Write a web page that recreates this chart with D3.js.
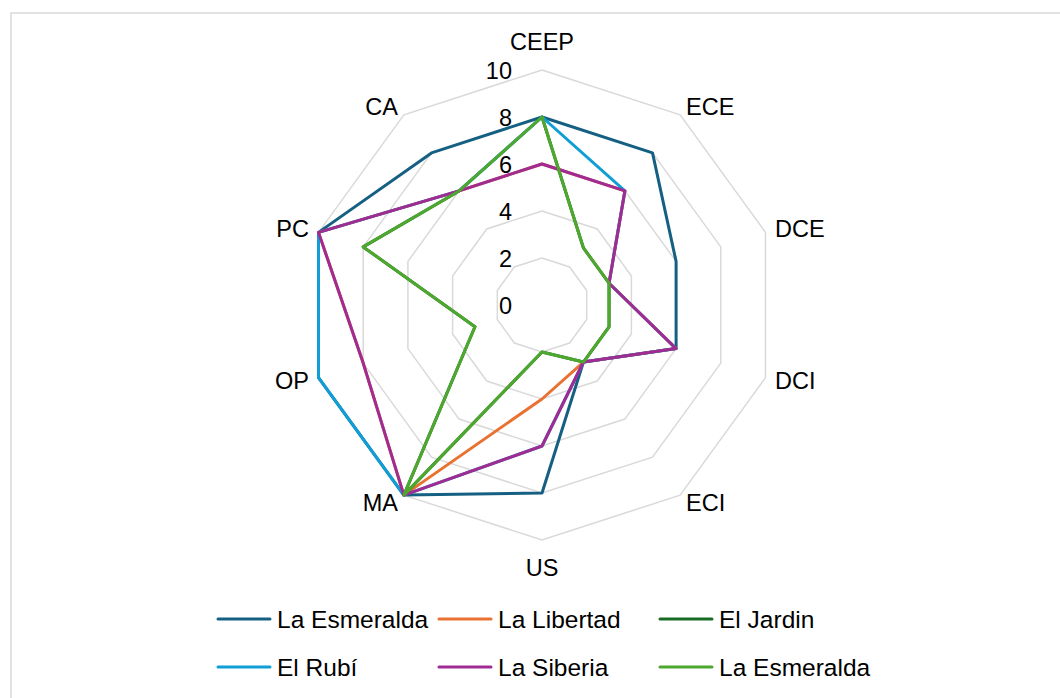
<!DOCTYPE html>
<html>
<head>
<meta charset="utf-8">
<script src="https://cdn.jsdelivr.net/npm/d3@7"></script>
<style>
  body { margin: 0; background: #fff; }
  svg text { font-family: "Liberation Sans", Arial, sans-serif; fill: #000; }
</style>
</head>
<body>
<div id="chart"></div>
<script>
// Axes of the radar, clockwise from the top
var categories = ["CEEP", "ECE", "DCE", "DCI", "ECI", "US", "MA", "OP", "PC", "CA"];
var tickValues = [0, 2, 4, 6, 8, 10];

// One array per series, same order as categories
var laEsmeralda = [8, 8, 6, 6, 3, 8, 10, 10, 10, 8];
var laLibertad  = [6, 6, 3, 6, 3, 4, 10, 8, 10, 6];
var elJardin    = [8, 3, 3, 3, 3, 2, 10, 3, 8, 6];
var elRubi      = [8, 6, 3, 6, 3, 6, 10, 10, 10, 6];
var laSiberia   = [6, 6, 3, 6, 3, 6, 10, 8, 10, 6];
var laEsmeralda2 = [8, 3, 3, 3, 3, 2, 10, 3, 8, 6];

var seriesNames = ["La Esmeralda", "La Libertad", "El Jardin", "El Rubí", "La Siberia", "La Esmeralda"];
var seriesColors = ["#156082", "#E97132", "#196B24", "#0F9ED5", "#A02B93", "#4EA72E"];

var series = [laEsmeralda, laLibertad, elJardin, elRubi, laSiberia, laEsmeralda2].map(function (v, i) {
    return { name: seriesNames[i], color: seriesColors[i], values: v };
});

var width = 1060, height = 698;
var cx = 542, cy = 305, radius = 235;
var fontSize = "23.5px";

var svg = d3.select("#chart").append("svg")
    .attr("width", width)
    .attr("height", height);

// chart frame
svg.append("rect")
    .attr("x", 11).attr("y", 13)
    .attr("width", 1100).attr("height", 720)
    .attr("fill", "#fff")
    .attr("stroke", "#d9d9d9")
    .attr("stroke-width", 1.5);

var r = d3.scaleLinear().domain([0, 10]).range([0, radius]);
var angle = d3.scaleBand().domain(categories).range([0, 2 * Math.PI]).paddingInner(0).paddingOuter(0);
function ang(c) { return angle(c); }

var g = svg.append("g").attr("transform", "translate(" + cx + "," + cy + ")");

// Ring gridlines
g.selectAll(".ring")
    .data(tickValues.filter(function (t) { return t > 0; }))
    .enter().append("path")
    .attr("class", "ring")
    .attr("fill", "none")
    .attr("stroke", "#d9d9d9")
    .attr("stroke-width", 1.5)
    .attr("d", function (t) {
        return d3.lineRadial().angle(function (c) { return ang(c); }).radius(r(t))
            .curve(d3.curveLinearClosed)(categories);
    });

// Tick labels
g.selectAll(".tick_label")
    .data(tickValues)
    .enter().append("text")
    .attr("class", "tick_label")
    .attr("x", -30)
    .attr("y", function (t) { return -r(t) + 1; })
    .attr("dominant-baseline", "central")
    .attr("text-anchor", "end")
    .style("font-size", fontSize)
    .text(function (t) { return t; });

// Category labels
g.selectAll(".cat_label")
    .data(categories)
    .enter().append("text")
    .attr("class", "cat_label")
    .each(function (c) {
        var a = ang(c), s = Math.sin(a), co = Math.cos(a);
        var d = radius + 10;
        var x = d * s, y = -d * co;
        var anchor = "middle";
        if (s > 0.05) anchor = "start";
        if (s < -0.05) anchor = "end";
        if (Math.abs(s) < 0.05) y += -co * 18;
        d3.select(this)
            .attr("x", x).attr("y", y)
            .attr("text-anchor", anchor)
            .attr("dominant-baseline", "central");
    })
    .style("font-size", fontSize)
    .text(function (c) { return c; });

// Series lines
var line = d3.lineRadial()
    .angle(function (d, i) { return ang(categories[i]); })
    .radius(function (d) { return r(d); })
    .curve(d3.curveLinearClosed);

g.selectAll(".series")
    .data(series)
    .enter().append("path")
    .attr("class", "series")
    .attr("fill", "none")
    .attr("stroke", function (d) { return d.color; })
    .attr("stroke-width", 3)
    .attr("stroke-linejoin", "round")
    .attr("d", function (d) { return line(d.values); });

// Legend
var colX = [218, 439, 660];
var rowY = [619, 667];
var legend = svg.selectAll(".legend_item")
    .data(series)
    .enter().append("g")
    .attr("class", "legend_item")
    .attr("transform", function (d, i) {
        return "translate(" + colX[i % 3] + "," + rowY[Math.floor(i / 3)] + ")";
    });

legend.append("line")
    .attr("x1", 0).attr("x2", 52)
    .attr("stroke", function (d) { return d.color; })
    .attr("stroke-width", 3)
    .attr("stroke-linecap", "round");

legend.append("text")
    .attr("x", 59)
    .attr("dominant-baseline", "central")
    .style("font-size", "24.5px")
    .text(function (d) { return d.name; });
</script>
</body>
</html>
